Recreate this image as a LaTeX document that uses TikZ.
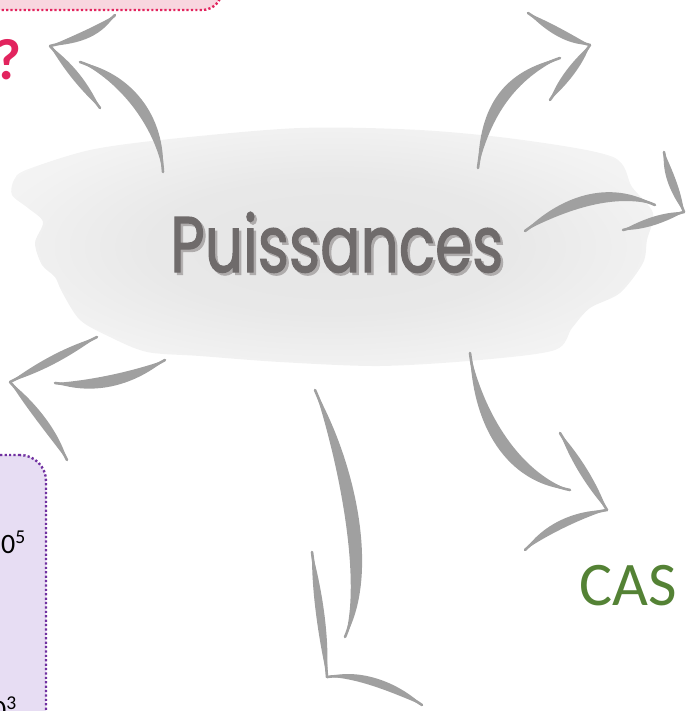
\documentclass[tikz,border=0pt]{standalone}
\usepackage{fontspec}
\setmainfont{Carlito}
\newfontfamily\handfont[FakeBold=1.6]{Poppins}
\usetikzlibrary{positioning,calc}
\definecolor{strokegray}{RGB}{160,160,160}
\definecolor{titlegray}{RGB}{111,107,107}
\definecolor{shadowgray}{RGB}{175,172,172}
\definecolor{askpink}{RGB}{248,214,223}
\definecolor{askred}{RGB}{226,36,94}
\definecolor{rulelilac}{RGB}{231,221,243}
\definecolor{ruleviolet}{RGB}{112,48,160}
\definecolor{casgreen}{RGB}{84,130,53}
\pgfdeclareradialshading{cloudshade}{\pgfpoint{0bp}{0bp}}{%
  color(0bp)=(black!10); color(14bp)=(black!9); color(26bp)=(black!5);
  color(36bp)=(black!3); color(50bp)=(black!1)}
% one hand-drawn stroke, pointed at both ends
\newcommand{\brush}[5][6pt]{%
  \fill[strokegray] let \p1=(#2), \p2=(#5), \n1={atan2(\y2-\y1,\x2-\x1)+90} in
    (\p1) .. controls ($(\p1)+#3+(\n1:#1)$) and ($(\p2)+#4+(\n1:#1)$) .. (\p2)
    .. controls ($(\p2)+#4-(\n1:#1)$) and ($(\p1)+#3-(\n1:#1)$) .. (\p1) -- cycle;
  \draw[brush=2.6pt] (#2) .. controls +#3 and +#4 .. (#5);}
\newcommand{\titleword}{\resizebox{333pt}{60pt}{\handfont Puissances}}

\begin{document}
\begin{tikzpicture}[
  x=1pt, y=-1pt,
  brush/.style={draw=strokegray, line width=#1, line cap=round},
  notebox/.style={
    rectangle,
    rounded corners=#1,
    line width=2.4pt,
    dash pattern=on 2.2pt off 2.2pt,
    inner sep=0pt
  },
  title/.style={inner sep=0pt, anchor=base west}
]
\useasboundingbox (0,0) rectangle (686,711);

% boxes cut by the frame
\node[notebox=20pt, draw=askred, fill=askpink, minimum width=244pt, minimum height=60pt] (askbox) at (100,-20) {};
\node[notebox=26pt, draw=ruleviolet, fill=rulelilac, minimum width=76pt, minimum height=310pt] (rulebox) at (8,610) {};

% the cloud
\shade[shading=cloudshade] plot[smooth cycle, tension=0.5] coordinates {
  (170,139) (300,128) (420,130) (523,140) (613,157) (632,187) (653,213)
  (647,240) (643,263) (620,293) (590,308) (572,328) (555,350) (480,360)
  (380,366) (280,362) (200,356) (147,352) (110,337) (80,320) (62,292)
  (55,277) (42,265) (35,243) (43,222) (28,208) (12,195) (14,180) (26,170)
  (90,150)};

% arrow points
\coordinate (tl-base) at (163,172);  \coordinate (tl-end) at (80,62);
\coordinate (tl-tip) at (50,46);     \coordinate (tl-wing1) at (115,15);  \coordinate (tl-wing2) at (100,108);
\coordinate (tr-base) at (478,168);  \coordinate (tr-end) at (560,58);
\coordinate (tr-tip) at (590,45);    \coordinate (tr-wing1) at (528,13);  \coordinate (tr-wing2) at (550,100);
\coordinate (r-base) at (525,231);   \coordinate (r-end) at (655,205);
\coordinate (r-tip) at (684,212);    \coordinate (r-wing1) at (664,152);  \coordinate (r-wing2) at (623,230);
\coordinate (bl-base) at (165,360);  \coordinate (bl-end) at (55,383);
\coordinate (bl-tip) at (10,382);    \coordinate (bl-wing1) at (97,337);  \coordinate (bl-wing2) at (67,460);
\coordinate (b-base) at (315,390);   \coordinate (b-end) at (345,637);
\coordinate (b-tip) at (327,677);    \coordinate (b-wing1) at (312,552);  \coordinate (b-wing2) at (422,705);
\coordinate (br-base) at (470,353);  \coordinate (br-end) at (570,490);
\coordinate (br-tip) at (607,510);   \coordinate (br-wing1) at (560,433); \coordinate (br-wing2) at (525,550);

% shafts
\brush[7.5pt]{tl-base}{(-3,-52)}{(45,15)}{tl-end}
\brush[7.5pt]{tr-base}{(7,-58)}{(-50,17)}{tr-end}
\brush[7.5pt]{r-base}{(35,-26)}{(-45,-20)}{r-end}
\brush[7.5pt]{bl-base}{(-35,20)}{(35,5)}{bl-end}
\brush[9pt]{b-base}{(35,80)}{(25,-57)}{b-end}
\brush[8.5pt]{br-base}{(10,77)}{(-50,-10)}{br-end}

% heads
\brush[5.5pt]{tl-tip}{(30,-7)}{(-15,15)}{tl-wing1}
\brush[5.5pt]{tl-tip}{(18,20)}{(-16,-22)}{tl-wing2}
\brush[5.5pt]{tr-wing1}{(22,15)}{(-20,-5)}{tr-tip}
\brush[5.5pt]{tr-tip}{(-12,18)}{(12,-18)}{tr-wing2}
\brush[5.5pt]{r-wing1}{(3,20)}{(-8,-20)}{r-tip}
\brush[5.5pt]{r-tip}{(-20,5)}{(20,-5)}{r-wing2}
\brush[5.5pt]{bl-wing1}{(-30,15)}{(30,-15)}{bl-tip}
\brush[5.5pt]{bl-tip}{(20,22)}{(-12,-25)}{bl-wing2}
\brush[5.5pt]{b-wing1}{(5,40)}{(-3,-40)}{b-tip}
\brush[5.5pt]{b-tip}{(33,-5)}{(-22,-15)}{b-wing2}
\brush[5.5pt]{br-wing1}{(15,25)}{(-15,-25)}{br-tip}
\brush[5.5pt]{br-tip}{(-32,5)}{(20,-20)}{br-wing2}

% title, with its shadow set in the same node
\node[title, text=titlegray] (title) at (170,272)
  {\makebox[0pt][l]{\hspace{2.5pt}\raisebox{-2.5pt}{\color{shadowgray}\titleword}}\titleword};

% labels
\node[title, text=askred, font=\fontsize{58}{58}\selectfont\bfseries] (ask) at (-6,80) {?};
\node[title, font=\fontsize{28}{28}\selectfont] (power5) at (1,553) {0\textsuperscript{5}};
\node[title, font=\fontsize{28}{28}\selectfont] (power3) at (-8,719) {0\textsuperscript{3}};
\node[title, text=casgreen, font=\fontsize{62}{62}\selectfont] (cas) at (579,605) {CAS};
\end{tikzpicture}
\end{document}
